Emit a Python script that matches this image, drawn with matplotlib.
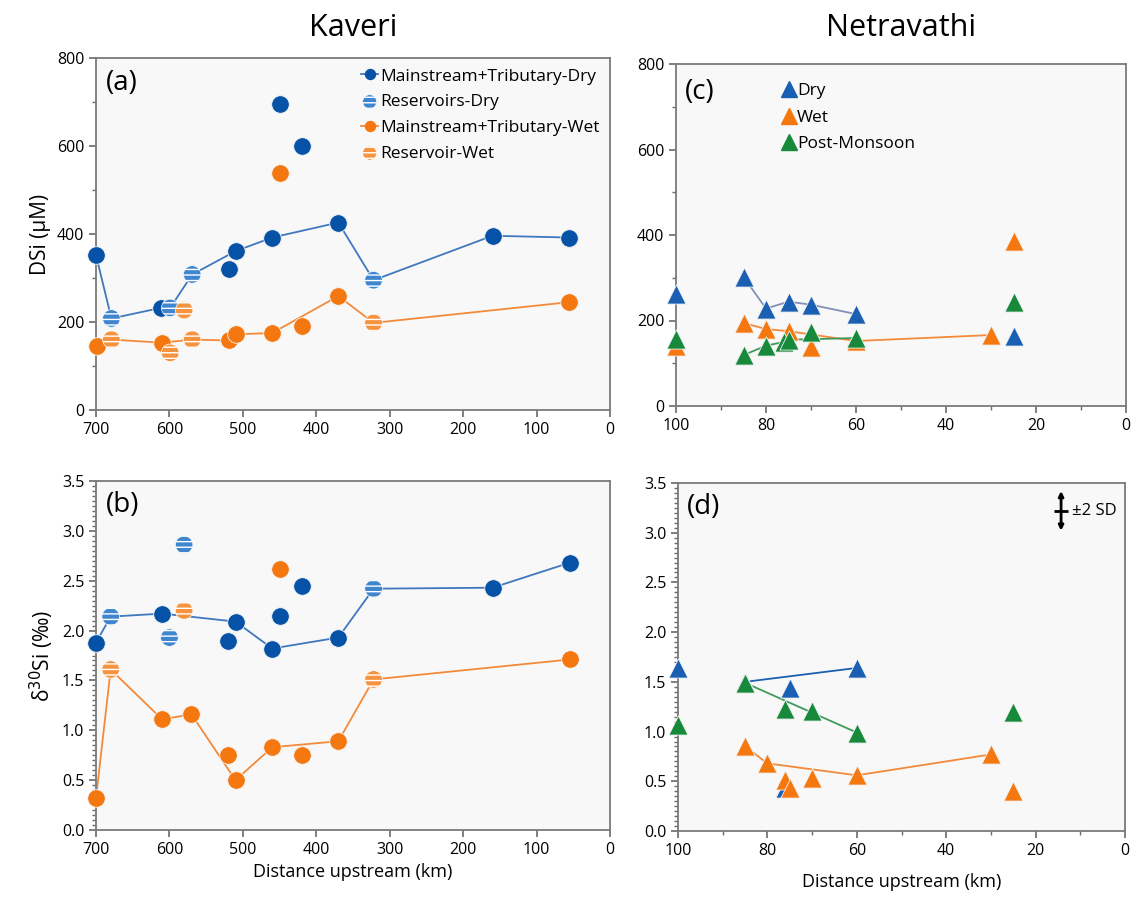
#!/usr/bin/env python3

import matplotlib
matplotlib.use("Agg")
import matplotlib.pyplot as plt
from matplotlib.ticker import MultipleLocator, FormatStrFormatter
from matplotlib.lines import Line2D

# ---- Kaveri, DSi (uM) ----
kav_km_main_dry = [700, 612, 519, 510, 460, 450, 420, 370, 160, 56]
kav_dsi_main_dry = [352, 232, 320, 361, 392, 695, 601, 426, 396, 392]
kav_km_res_dry = [679, 599, 569, 322]
kav_dsi_res_dry = [208, 232, 308, 295]
kav_km_main_wet = [699, 610, 519, 510, 460, 450, 420, 370, 56]
kav_dsi_main_wet = [145, 153, 158, 172, 175, 539, 191, 259, 245]
kav_km_res_wet = [679, 599, 580, 569, 322]
kav_dsi_res_wet = [160, 130, 227, 160, 198]
kav_line_dry_km = [700, 679, 612, 599, 569, 510, 460, 370, 322, 160, 56]
kav_line_dry_dsi = [352, 208, 232, 232, 308, 361, 392, 426, 295, 396, 392]
kav_line_wet_km = [699, 679, 610, 569, 519, 510, 460, 370, 322, 56]
kav_line_wet_dsi = [145, 160, 153, 160, 158, 172, 175, 259, 198, 245]

# ---- Kaveri, d30Si (permil) ----
kav_km_main_dry_b = [700, 610, 520, 510, 460, 450, 420, 370, 160, 55]
kav_d30_main_dry = [1.88, 2.17, 1.90, 2.09, 1.82, 2.15, 2.45, 1.93, 2.43, 2.68]
kav_km_res_dry_b = [680, 600, 580, 322]
kav_d30_res_dry = [2.14, 1.93, 2.86, 2.42]
kav_km_main_wet_b = [700, 610, 570, 520, 510, 460, 450, 420, 370, 55]
kav_d30_main_wet = [0.32, 1.11, 1.16, 0.75, 0.50, 0.83, 2.62, 0.75, 0.89, 1.71]
kav_km_res_wet_b = [680, 580, 322]
kav_d30_res_wet = [1.61, 2.20, 1.51]
kav_line_dry_km_b = [700, 680, 610, 510, 460, 370, 322, 160, 55]
kav_line_dry_d30 = [1.88, 2.14, 2.17, 2.09, 1.82, 1.93, 2.42, 2.43, 2.68]
kav_line_wet_km_b = [700, 680, 610, 570, 510, 460, 370, 322, 55]
kav_line_wet_d30 = [0.32, 1.61, 1.11, 1.16, 0.50, 0.83, 0.89, 1.51, 1.71]

# ---- Netravathi, DSi ----
net_km_dry = [100, 85, 80, 75, 70, 60, 25]
net_dsi_dry = [261, 302, 228, 244, 237, 215, 164]
net_km_wet = [100, 85, 80, 75, 70, 60, 30, 25]
net_dsi_wet = [140, 194, 180, 175, 138, 152, 166, 386]
net_km_post = [100, 85, 80, 76, 75, 70, 60, 25]
net_dsi_post = [156, 119, 141, 150, 155, 173, 159, 244]
net_line_dry_km = [85, 80, 75, 70, 60]
net_line_dry_dsi = [302, 228, 244, 237, 215]
net_line_wet_km = [85, 80, 75, 60, 30]
net_line_wet_dsi = [194, 180, 175, 152, 166]
net_line_post_km = [85, 80, 76, 75, 60]
net_line_post_dsi = [119, 141, 150, 155, 159]

# ---- Netravathi, d30Si ----
net_km_dry_d = [100, 85, 76, 75, 60]
net_d30_dry = [1.64, 1.50, 0.43, 1.44, 1.64]
net_km_wet_d = [85, 80, 76, 75, 70, 60, 30, 25]
net_d30_wet = [0.85, 0.68, 0.51, 0.43, 0.53, 0.56, 0.77, 0.40]
net_km_post_d = [100, 85, 76, 70, 60, 25]
net_d30_post = [1.07, 1.49, 1.23, 1.21, 0.99, 1.20]
net_line_dry_km_d = [85, 60]
net_line_dry_d30 = [1.50, 1.64]
net_line_wet_km_d = [85, 80, 60, 30]
net_line_wet_d30 = [0.85, 0.68, 0.56, 0.77]
net_line_post_km_d = [85, 60]
net_line_post_d30 = [1.49, 0.99]

BLUE = "#0652a6"
BLUE_LINE = "#3f78bd"
LBLUE = "#3f86cf"
ORANGE = "#f4780f"
ORANGE_LINE = "#f38a3a"
LORANGE = "#f5933f"
TBLUE = "#1b5fb3"
GREEN = "#17893b"
GREEN_LINE = "#3f9a5a"

plt.rcParams["font.family"] = ["Open Sans", "DejaVu Sans"]
plt.rcParams["hatch.linewidth"] = 1.0

fig = plt.figure(figsize=(11.37, 9.0), dpi=100)
W, H = 1137.0, 900.0


def make_axes(left, right, top, bottom):
    ax = fig.add_axes([left / W, 1 - bottom / H, (right - left) / W, (bottom - top) / H])
    ax.set_facecolor("#f8f8f8")
    for s in ax.spines.values():
        s.set_color("#7a7a7a")
        s.set_linewidth(1.3)
    ax.tick_params(direction="out", length=5, width=1.2, color="#6a6a6a", labelsize=11.5)
    ax.tick_params(which="minor", direction="out", length=3, width=1.0, color="#6a6a6a")
    return ax


def circles(ax, x, y, color, striped=False):
    if striped:
        return ax.scatter(x, y, s=160, facecolor=color, edgecolor="white", hatch="---",
                          linewidth=0.5, zorder=4, clip_on=False)
    return ax.scatter(x, y, s=160, color=color, edgecolor="#f4f4f4", linewidth=0.6,
                      zorder=4, clip_on=False)


def triangles(ax, x, y, color):
    ax.scatter(x, y, s=190, marker="^", color=color, edgecolor="#f4f4f4", linewidth=0.6,
               zorder=4, clip_on=False)


# (a) Kaveri DSi
ax_a = make_axes(96, 610, 58, 410)
ax_a.plot(kav_line_dry_km, kav_line_dry_dsi, color=BLUE_LINE, lw=1.3, zorder=2)
ax_a.plot(kav_line_wet_km, kav_line_wet_dsi, color=ORANGE_LINE, lw=1.3, zorder=2)
circles(ax_a, kav_km_main_dry, kav_dsi_main_dry, BLUE)
res_dry = circles(ax_a, kav_km_res_dry, kav_dsi_res_dry, LBLUE, True)
circles(ax_a, kav_km_main_wet, kav_dsi_main_wet, ORANGE)
res_wet = circles(ax_a, kav_km_res_wet, kav_dsi_res_wet, LORANGE, True)
ax_a.set_xlim(700, 0)
ax_a.set_ylim(0, 800)
ax_a.xaxis.set_major_locator(MultipleLocator(100))
ax_a.yaxis.set_major_locator(MultipleLocator(200))
ax_a.yaxis.set_minor_locator(MultipleLocator(100))
ax_a.set_ylabel("DSi (\u00b5M)", fontsize=15)
ax_a.text(0.02, 0.97, "(a)", transform=ax_a.transAxes, fontsize=20, va="top")
ax_a.set_title("Kaveri", fontsize=22, pad=16)

handles_a = [
    Line2D([], [], color=BLUE_LINE, lw=1.3, marker="o", ms=9, mfc=BLUE, mec=BLUE),
    res_dry,
    Line2D([], [], color=ORANGE_LINE, lw=1.3, marker="o", ms=9, mfc=ORANGE, mec=ORANGE),
    res_wet,
]
ax_a.legend(handles_a, ["Mainstream+Tributary-Dry", "Reservoirs-Dry",
                        "Mainstream+Tributary-Wet", "Reservoir-Wet"],
            loc="upper right", frameon=False, fontsize=12.5, handlelength=1.0,
            handletextpad=0.1, labelspacing=0.55, borderaxespad=0.2,
            scatterpoints=1, markerscale=0.8)

# (c) Netravathi DSi
ax_c = make_axes(676, 1126, 64, 406)
ax_c.plot(net_line_dry_km, net_line_dry_dsi, color="#8090b8", lw=1.3, zorder=2)
ax_c.plot(net_line_wet_km, net_line_wet_dsi, color=ORANGE_LINE, lw=1.3, zorder=2)
ax_c.plot(net_line_post_km, net_line_post_dsi, color=GREEN_LINE, lw=1.3, zorder=2)
triangles(ax_c, net_km_dry, net_dsi_dry, TBLUE)
triangles(ax_c, net_km_wet, net_dsi_wet, ORANGE)
triangles(ax_c, net_km_post, net_dsi_post, GREEN)
ax_c.set_xlim(100, 0)
ax_c.set_ylim(0, 800)
ax_c.xaxis.set_major_locator(MultipleLocator(20))
ax_c.xaxis.set_minor_locator(MultipleLocator(10))
ax_c.yaxis.set_major_locator(MultipleLocator(200))
ax_c.yaxis.set_minor_locator(MultipleLocator(100))
ax_c.text(0.02, 0.96, "(c)", transform=ax_c.transAxes, fontsize=20, va="top")
ax_c.set_title("Netravathi", fontsize=22, pad=20)
handles_c = [Line2D([], [], ls="", marker="^", ms=11, mfc=c, mec=c) for c in (TBLUE, ORANGE, GREEN)]
ax_c.legend(handles_c, ["Dry", "Wet", "Post-Monsoon"], loc="upper left",
            bbox_to_anchor=(0.2, 0.99), frameon=False, fontsize=12.5,
            handlelength=0.8, handletextpad=0.1, labelspacing=0.6)

# (b) Kaveri d30Si
ax_b = make_axes(96, 610, 481, 830)
ax_b.plot(kav_line_dry_km_b, kav_line_dry_d30, color=BLUE_LINE, lw=1.3, zorder=2)
ax_b.plot(kav_line_wet_km_b, kav_line_wet_d30, color=ORANGE_LINE, lw=1.3, zorder=2)
circles(ax_b, kav_km_main_dry_b, kav_d30_main_dry, BLUE)
circles(ax_b, kav_km_res_dry_b, kav_d30_res_dry, LBLUE, True)
circles(ax_b, kav_km_main_wet_b, kav_d30_main_wet, ORANGE)
circles(ax_b, kav_km_res_wet_b, kav_d30_res_wet, LORANGE, True)
ax_b.set_xlim(700, 0)
ax_b.set_ylim(0, 3.5)
ax_b.xaxis.set_major_locator(MultipleLocator(100))
ax_b.yaxis.set_major_locator(MultipleLocator(0.5))
ax_b.yaxis.set_minor_locator(MultipleLocator(0.05))
ax_b.yaxis.set_major_formatter(FormatStrFormatter("%.1f"))
ax_b.set_ylabel("\u03b4$^{30}$Si (\u2030)", fontsize=15)
ax_b.set_xlabel("Distance upstream (km)", fontsize=13)
ax_b.text(0.02, 0.97, "(b)", transform=ax_b.transAxes, fontsize=20, va="top")

# (d) Netravathi d30Si
ax_d = make_axes(678, 1125, 483, 831)
ax_d.plot(net_line_dry_km_d, net_line_dry_d30, color=TBLUE, lw=1.3, zorder=2)
ax_d.plot(net_line_wet_km_d, net_line_wet_d30, color=ORANGE_LINE, lw=1.3, zorder=2)
ax_d.plot(net_line_post_km_d, net_line_post_d30, color=GREEN_LINE, lw=1.3, zorder=2)
triangles(ax_d, net_km_dry_d, net_d30_dry, TBLUE)
triangles(ax_d, net_km_wet_d, net_d30_wet, ORANGE)
triangles(ax_d, net_km_post_d, net_d30_post, GREEN)
ax_d.set_xlim(100, 0)
ax_d.set_ylim(0, 3.5)
ax_d.xaxis.set_major_locator(MultipleLocator(20))
ax_d.xaxis.set_minor_locator(MultipleLocator(10))
ax_d.yaxis.set_major_locator(MultipleLocator(0.5))
ax_d.yaxis.set_minor_locator(MultipleLocator(0.05))
ax_d.yaxis.set_major_formatter(FormatStrFormatter("%.1f"))
ax_d.set_xlabel("Distance upstream (km)", fontsize=13, labelpad=10)
ax_d.text(0.02, 0.97, "(d)", transform=ax_d.transAxes, fontsize=20, va="top")

# +-2 SD marker
ax_d.annotate("", xy=(14.3, 3.42), xytext=(14.3, 3.02),
              arrowprops=dict(arrowstyle="<|-|>", color="black", lw=2,
                              mutation_scale=7, shrinkA=0, shrinkB=0))
ax_d.plot([14.3], [3.22], marker="_", ms=10, mew=2, color="black")
ax_d.text(11.8, 3.22, "\u00b12 SD", fontsize=12, va="center")

fig.savefig("out.png", dpi=100)
